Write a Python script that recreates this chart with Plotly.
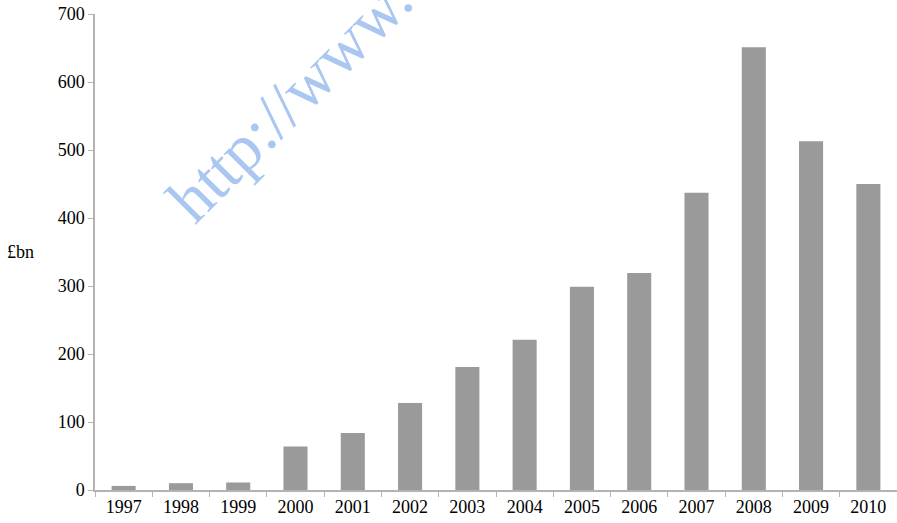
import plotly.graph_objects as go

years = ["1997", "1998", "1999", "2000", "2001", "2002", "2003",
         "2004", "2005", "2006", "2007", "2008", "2009", "2010"]
values_bn = [6, 10, 11, 64, 84, 128, 181, 221, 299, 319, 437, 651, 513, 450]
y_ticks = [0, 100, 200, 300, 400, 500, 600, 700]

FONT = "Liberation Serif"
AXIS_GREY = "#b3b3b3"

fig = go.Figure(
    go.Bar(
        x=years,
        y=values_bn,
        marker=dict(color="#9a9a9a", line=dict(width=0)),
        width=0.42,
    )
)

fig.update_layout(
    width=897,
    height=523,
    margin=dict(l=95, r=0, t=14, b=33),
    paper_bgcolor="white",
    plot_bgcolor="white",
    showlegend=False,
    font=dict(family=FONT, size=18, color="black"),
    xaxis=dict(
        type="category",
        showgrid=False,
        showline=True,
        linecolor=AXIS_GREY,
        linewidth=1.5,
        ticks="outside",
        tickson="boundaries",
        ticklen=5,
        tickcolor=AXIS_GREY,
        tickfont=dict(family=FONT, size=18, color="black"),
        fixedrange=True,
    ),
    yaxis=dict(
        range=[0, 700],
        tickvals=y_ticks,
        showgrid=False,
        zeroline=False,
        showline=True,
        linecolor=AXIS_GREY,
        linewidth=1.5,
        ticks="outside",
        ticklen=5,
        tickcolor=AXIS_GREY,
        tickfont=dict(family=FONT, size=18, color="black"),
        fixedrange=True,
    ),
    annotations=[
        dict(
            text="£bn",
            xref="paper", yref="paper",
            x=-0.112, y=0.5,
            xanchor="left", yanchor="middle",
            showarrow=False,
            font=dict(family=FONT, size=18, color="black"),
        ),
        dict(
            text="http://www.",
            xref="paper", yref="paper",
            x=0.242, y=0.821,
            xanchor="center", yanchor="middle",
            textangle=-45,
            showarrow=False,
            font=dict(family=FONT, size=66, color="#a9c7f0"),
        ),
    ],
)

fig.write_html("out.html")
